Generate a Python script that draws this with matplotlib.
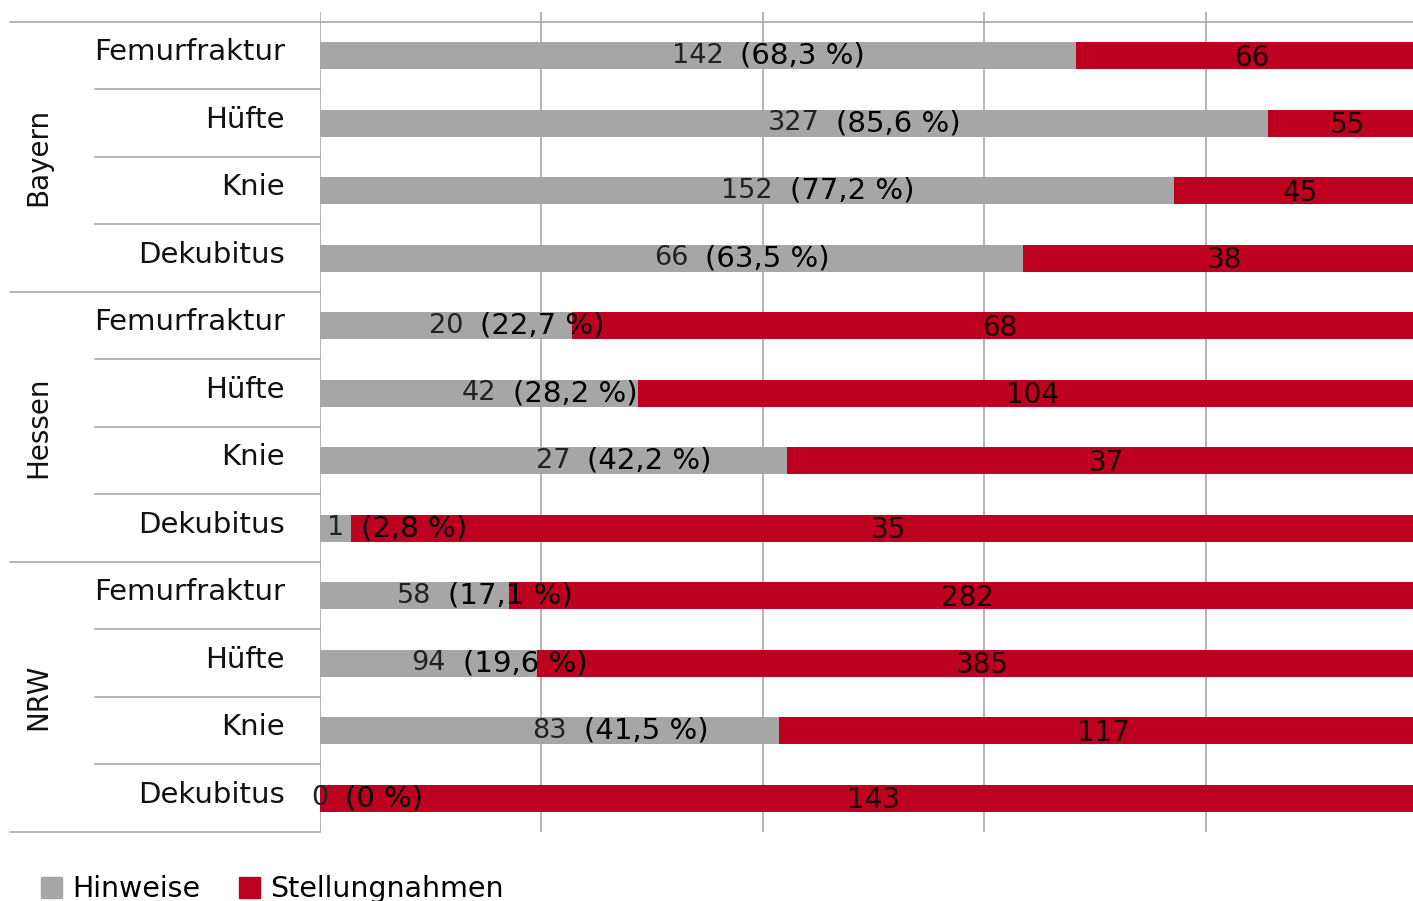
import matplotlib

matplotlib.use("Agg")

import matplotlib.pyplot as plt
import matplotlib.transforms as mtransforms
from matplotlib.patches import Patch
import numpy as np

groups = ["Bayern", "Hessen", "NRW"]
categories = ["Femurfraktur", "Hüfte", "Knie", "Dekubitus"]
hinweise = [142, 327, 152, 66, 20, 42, 27, 1, 58, 94, 83, 0]
stellungnahmen = [66, 55, 45, 38, 68, 104, 37, 35, 282, 385, 117, 143]
pct_labels = ["68,3", "85,6", "77,2", "63,5", "22,7", "28,2", "42,2", "2,8",
              "17,1", "19,6", "41,5", "0"]

GREY = "#a6a6a6"
RED = "#be0020"
LINE = "#a0a0a0"
W, H = 1413, 901

plt.rcParams["font.family"] = ["DejaVu Sans"]

fig = plt.figure(figsize=(W / 100, H / 100), dpi=100)
ax = fig.add_axes([320 / W, (H - 832) / H, (1413 - 320) / W, (832 - 12) / H])

hin = np.array(hinweise, dtype=float)
stl = np.array(stellungnahmen, dtype=float)
total = hin + stl
share_h = hin / total * 100
share_s = stl / total * 100
y = np.arange(len(hin))

ax.vlines([20, 40, 60, 80], -0.648, 11.5, color=LINE, lw=1.1, zorder=0)
ax.axvline(0, color=LINE, lw=1.1, zorder=0)
ax.barh(y, share_h, height=0.4, color=GREY, zorder=2)
ax.barh(y, share_s, left=share_h, height=0.4, color=RED, zorder=2)

# the original chart is cut off a little before 100 %
xmax = 100 * (1413 - 320) / 1107
ax.set_xlim(0, xmax)
ax.set_ylim(11.5, -0.648)
ax.axis("off")

# value labels
for i in range(len(hin)):
    cx = share_h[i] / 2
    txt = str(hinweise[i])
    ax.text(cx, y[i], txt, ha="center", va="center", fontsize=19.5, color="#222222", zorder=3)
    half = len(txt) * 0.636 * 19.5 / 2
    ax.annotate(f"({pct_labels[i]} %)", xy=(cx, y[i]), xytext=(half + 12, 0),
                textcoords="offset points", ha="left", va="center",
                fontsize=21, color="black", zorder=3)
    ax.text(share_h[i] + share_s[i] / 2, y[i] + 0.03, str(stellungnahmen[i]), ha="center",
            va="center", fontsize=20, color="#1a0000", zorder=3)

# left-hand table lines and labels
trans = mtransforms.blended_transform_factory(fig.transFigure, ax.transData)
for b in range(13):
    yb = b - 0.5
    if b == 0:
        x0, x1 = 10 / W, 1.0
    elif b % 4 == 0:
        x0, x1 = 10 / W, 320 / W
    else:
        x0, x1 = 95 / W, 320 / W
    ax.plot([x0, x1], [yb, yb], color=LINE, lw=1.1, transform=trans, clip_on=False, zorder=1)

for i in range(len(hin)):
    ax.text(285 / W, y[i] - 0.05, categories[i % 4], transform=trans, ha="right",
            va="center", fontsize=21, color="#111111")

for g, name in enumerate(groups):
    ax.text(38 / W, g * 4 + 1.5, name, transform=trans, rotation=90, ha="center",
            va="center", fontsize=20, color="#111111")

handles = [Patch(color=GREY, label="Hinweise"), Patch(color=RED, label="Stellungnahmen")]
fig.legend(handles=handles, loc="lower left", bbox_to_anchor=(15 / W, -0.031), ncol=2,
           frameon=False, fontsize=20.5, handlelength=0.75, handleheight=0.75,
           handletextpad=0.35, columnspacing=1.35)

fig.savefig("out.png", dpi=100)
